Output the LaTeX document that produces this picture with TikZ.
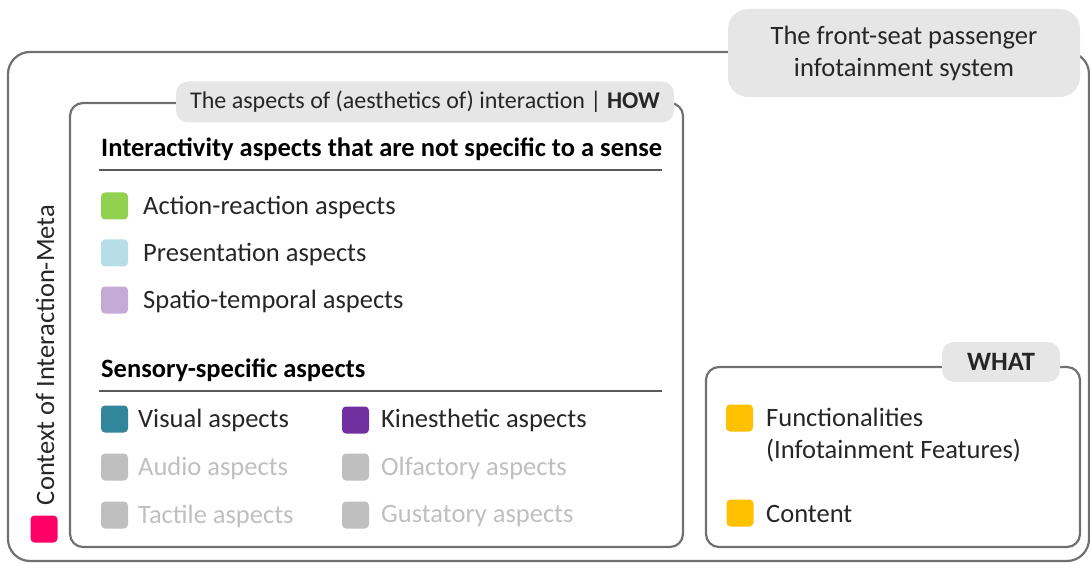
\documentclass[tikz,border=0pt]{standalone}
\usepackage{fontspec}
\setmainfont{Carlito}
\definecolor{frameg}{HTML}{707070}
\definecolor{tagg}{HTML}{E6E6E6}
\definecolor{txt}{HTML}{262626}
\definecolor{offg}{HTML}{BFBFBF}
\definecolor{ruleg}{HTML}{595959}
\definecolor{ctxpink}{HTML}{FF0066}
\definecolor{cgreen}{HTML}{92D050}
\definecolor{cblue}{HTML}{B7DEE8}
\definecolor{clav}{HTML}{C5A9D7}
\definecolor{cteal}{HTML}{31869B}
\definecolor{cpurp}{HTML}{7030A0}
\definecolor{cgold}{HTML}{FFC000}
\begin{document}
\begin{tikzpicture}[x=1pt,y=-1pt,
  frame/.style={draw=frameg,line width=2.2pt,rounded corners=13pt},
  tag/.style={fill=tagg,rounded corners=12pt,inner sep=0pt,text=txt},
  swatch/.style={minimum size=27pt,inner sep=0pt,rounded corners=4pt},
  lbl/.style={anchor=west,inner sep=0pt,text=txt,font=\fontsize{26.5}{32}\selectfont},
  off/.style={lbl,text=offg},
  head/.style={anchor=west,inner sep=0pt,text=black,font=\fontsize{26.5}{32}\selectfont\bfseries},
  rule/.style={draw=ruleg,line width=1.4pt}]
\useasboundingbox (0,0) rectangle (1090,564);

% outer frame: the whole system
\draw[frame,rounded corners=22pt] (8,52) rectangle (1089,561);
\node[tag,rounded corners=20pt,minimum width=352pt,minimum height=88pt,align=center,
      font=\fontsize{26.5}{32}\selectfont] (sys) at (904,53)
  {The front-seat passenger\\infotainment system};

% context of interaction
\node[rotate=90,inner sep=0pt,text=txt,font=\fontsize{26.5}{32}\selectfont] (ctx) at (45,355) {Context of Interaction-Meta};
\node[swatch,fill=ctxpink] (ctxsq) at (44,529) {};

% HOW frame
\draw[frame] (70,103) rectangle (683,547);
\node[tag,minimum width=498pt,minimum height=41pt,font=\fontsize{24}{28}\selectfont] (how) at (425,102)
  {The aspects of (aesthetics of) interaction | \textbf{HOW}};

\node[head] (h1) at (101,149) {Interactivity aspects that are not specific to a sense};
\draw[rule] (99,170) -- (662,170);

\node[swatch,fill=cgreen] (s1) at (114.5,206) {};
\node[lbl] (t1) at (143,207) {Action-reaction aspects};
\node[swatch,fill=cblue] (s2) at (114.5,253) {};
\node[lbl] (t2) at (143,254) {Presentation aspects};
\node[swatch,fill=clav] (s3) at (114.5,300) {};
\node[lbl] (t3) at (143,301) {Spatio-temporal aspects};

\node[head] (h2) at (101,370) {Sensory-specific aspects};
\draw[rule] (99,391) -- (662,391);

\node[swatch,fill=cteal] (v) at (114.5,419) {};
\node[lbl] (vt) at (138,420) {Visual aspects};
\node[swatch,fill=offg] (a) at (114.5,467) {};
\node[off] (at) at (138,468) {Audio aspects};
\node[swatch,fill=offg] (tc) at (114.5,515) {};
\node[off] (tct) at (138,516) {Tactile aspects};
\node[swatch,fill=cpurp] (k) at (355.5,420) {};
\node[lbl] (kt) at (381,420) {Kinesthetic aspects};
\node[swatch,fill=offg] (o) at (355.5,467) {};
\node[off] (ot) at (381,468) {Olfactory aspects};
\node[swatch,fill=offg] (g) at (355.5,515) {};
\node[off] (gt) at (381,516) {Gustatory aspects};

% WHAT frame
\draw[frame] (706,367) rectangle (1080,547);
\node[tag,minimum width=118pt,minimum height=40pt,font=\fontsize{26.5}{32}\selectfont\bfseries] (what) at (1001,362) {WHAT};
\node[swatch,fill=cgold] (f) at (739.5,418) {};
\node[lbl,align=left] (ft) at (766,435)
  {Functionalities\\(Infotainment Features)};
\node[swatch,fill=cgold] (c) at (740,513) {};
\node[lbl] (ct) at (766,514) {Content};
\end{tikzpicture}
\end{document}
